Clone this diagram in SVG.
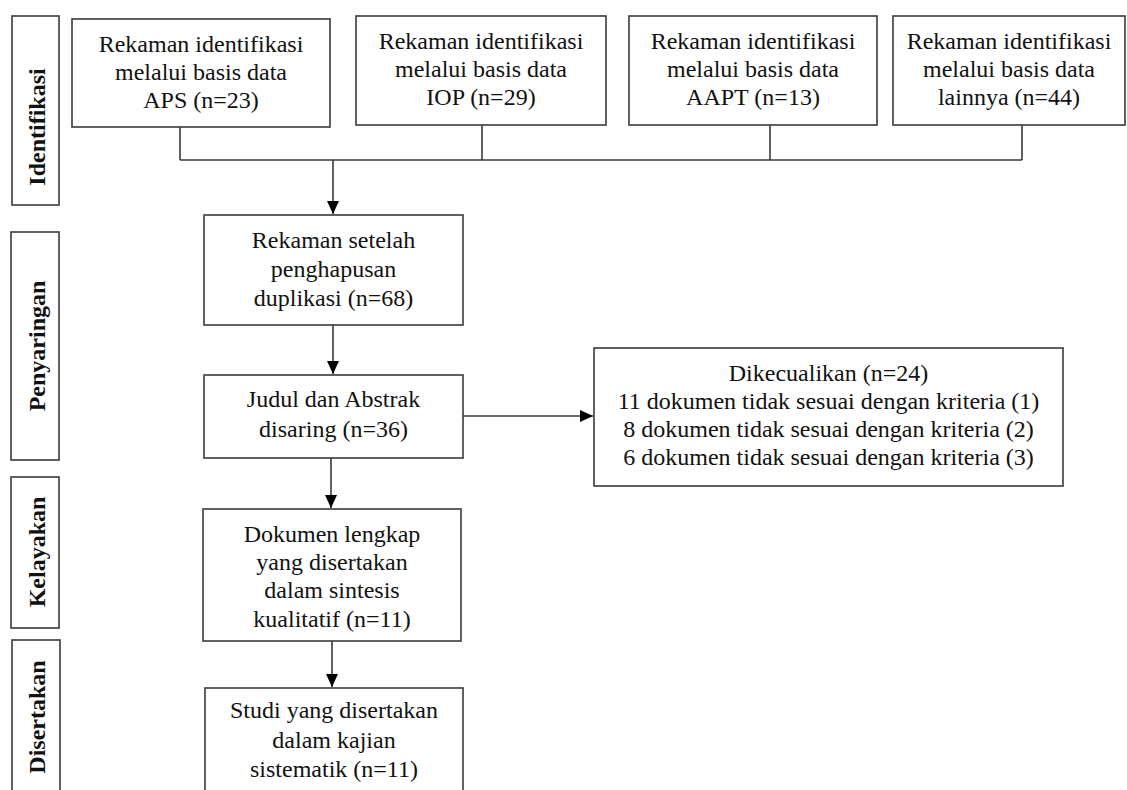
<svg xmlns="http://www.w3.org/2000/svg" width="1127" height="790" viewBox="0 0 1127 790">
<style>
.box{fill:#fff;stroke:#3a3a3a;stroke-width:1.6}
.t{font-family:"Liberation Serif","Times New Roman",serif;font-size:24px;fill:#111;text-anchor:middle}
.s{font-family:"Liberation Serif","Times New Roman",serif;font-size:24px;font-weight:bold;fill:#111;text-anchor:middle}
.ln{fill:none;stroke:#3a3a3a;stroke-width:1.6}
</style>
<defs>
<marker id="ah" markerWidth="13" markerHeight="12" refX="13" refY="6" orient="auto" markerUnits="userSpaceOnUse">
<path d="M0,0 L13,6 L0,12 Z" fill="#000"/>
</marker>
</defs>
<rect width="1127" height="790" fill="#fff"/>

<g id="stage-identifikasi">
<rect class="box" x="12" y="16" width="47" height="189"/>
<text class="s" transform="translate(45,127) rotate(-90)">Identifikasi</text>
</g>
<g id="stage-penyaringan">
<rect class="box" x="11" y="232" width="48" height="228"/>
<text class="s" transform="translate(45,346) rotate(-90)">Penyaringan</text>
</g>
<g id="stage-kelayakan">
<rect class="box" x="11" y="477" width="48" height="151"/>
<text class="s" transform="translate(45,552) rotate(-90)">Kelayakan</text>
</g>
<g id="stage-disertakan">
<rect class="box" x="12" y="640" width="48" height="160"/>
<text class="s" transform="translate(45,717) rotate(-90)">Disertakan</text>
</g>

<g id="n-aps">
<rect class="box" x="72" y="19" width="258" height="108"/>
<text class="t" x="201" y="52">Rekaman identifikasi</text>
<text class="t" x="201" y="80">melalui basis data</text>
<text class="t" x="201" y="108">APS (n=23)</text>
</g>
<g id="n-iop">
<rect class="box" x="356" y="16" width="250" height="109"/>
<text class="t" x="481" y="49">Rekaman identifikasi</text>
<text class="t" x="481" y="77">melalui basis data</text>
<text class="t" x="481" y="105">IOP (n=29)</text>
</g>
<g id="n-aapt">
<rect class="box" x="629" y="16" width="248" height="109"/>
<text class="t" x="753" y="49">Rekaman identifikasi</text>
<text class="t" x="753" y="77">melalui basis data</text>
<text class="t" x="753" y="105">AAPT (n=13)</text>
</g>
<g id="n-lainnya">
<rect class="box" x="893" y="16" width="232" height="109"/>
<text class="t" x="1009" y="49">Rekaman identifikasi</text>
<text class="t" x="1009" y="77">melalui basis data</text>
<text class="t" x="1009" y="105">lainnya (n=44)</text>
</g>

<g id="n-setelah">
<rect class="box" x="204" y="215" width="259" height="110"/>
<text class="t" x="333.5" y="248">Rekaman setelah</text>
<text class="t" x="333.5" y="277">penghapusan</text>
<text class="t" x="333.5" y="306">duplikasi (n=68)</text>
</g>
<g id="n-judul">
<rect class="box" x="204" y="375" width="259" height="83"/>
<text class="t" x="333.5" y="407">Judul dan Abstrak</text>
<text class="t" x="333.5" y="437">disaring (n=36)</text>
</g>
<g id="n-dikecualikan">
<rect class="box" x="594" y="348" width="469" height="138"/>
<text class="t" x="828.5" y="381">Dikecualikan (n=24)</text>
<text class="t" x="828.5" y="409">11 dokumen tidak sesuai dengan kriteria (1)</text>
<text class="t" x="828.5" y="437">8 dokumen tidak sesuai dengan kriteria (2)</text>
<text class="t" x="828.5" y="465">6 dokumen tidak sesuai dengan kriteria (3)</text>
</g>
<g id="n-dokumen">
<rect class="box" x="203" y="509" width="258" height="132"/>
<text class="t" x="332" y="542">Dokumen lengkap</text>
<text class="t" x="332" y="570">yang disertakan</text>
<text class="t" x="332" y="598">dalam sintesis</text>
<text class="t" x="332" y="627">kualitatif (n=11)</text>
</g>
<g id="n-studi">
<rect class="box" x="205" y="688" width="258" height="120"/>
<text class="t" x="334" y="718">Studi yang disertakan</text>
<text class="t" x="334" y="748">dalam kajian</text>
<text class="t" x="334" y="777">sistematik (n=11)</text>
</g>

<g id="connectors">
<path class="ln" d="M180,127 V160 M482,125 V160 M770,125 V160 M1022,125 V160 M180,160 H1022"/>
<line class="ln" x1="333" y1="160" x2="333" y2="214" marker-end="url(#ah)"/>
<line class="ln" x1="333" y1="325" x2="333" y2="374" marker-end="url(#ah)"/>
<line class="ln" x1="463" y1="416" x2="593" y2="416" marker-end="url(#ah)"/>
<line class="ln" x1="331" y1="458" x2="331" y2="508" marker-end="url(#ah)"/>
<line class="ln" x1="332" y1="641" x2="332" y2="687" marker-end="url(#ah)"/>
</g>
</svg>
